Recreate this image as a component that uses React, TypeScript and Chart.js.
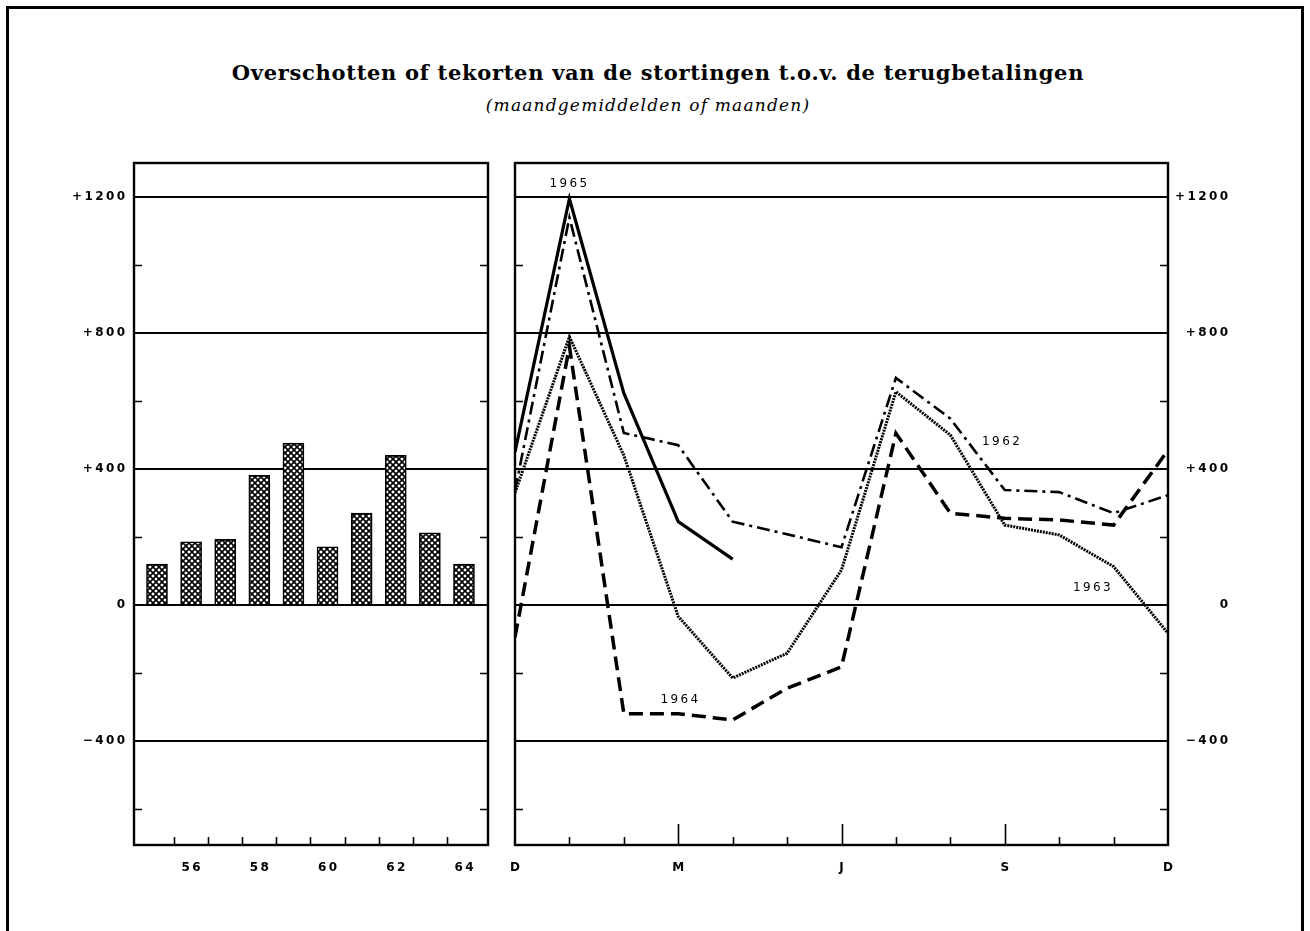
import React, { useEffect, useRef } from 'react';
import { Chart, registerables } from 'chart.js';

Chart.register(...registerables);

// ---------- DATA ----------
const years = [55, 56, 57, 58, 59, 60, 61, 62, 63, 64];
const yearTickLabels = [56, 58, 60, 62, 64];
const annualBalance = [120, 186, 193, 381, 476, 171, 270, 440, 212, 120];

const monthIndex = [0, 1, 2, 3, 4, 5, 6, 7, 8, 9, 10, 11, 12];
const monthTicks = [0, 3, 6, 9, 12];
const monthTickLabels = ['D', 'M', 'J', 'S', 'D'];

const series1962 = [335, 1140, 506, 470, 245, 208, 170, 668, 548, 338, 332, 270, 323];
const series1963 = [330, 789, 440, -34, -215, -142, 103, 627, 500, 235, 206, 113, -83];
const series1964 = [-95, 760, -320, -320, -338, -245, -182, 505, 270, 255, 250, 235, 455];
const series1965 = [450, 1195, 623, 245, 135];

const yMajorTicks = [-400, 0, 400, 800, 1200];
const yMinorTicks = [-600, -200, 200, 600, 1000];

const seriesNames = ['1965', '1962', '1963', '1964'];
const seriesLabelAnchors = [
  { text: '1965', x: 0.98, y: 1240 },
  { text: '1962', x: 8.93, y: 480 },
  { text: '1963', x: 10.6, y: 50 },
  { text: '1964', x: 3.02, y: -278 },
];

// ---------- HELPERS ----------
const spaced = (s: string) => s.split('').join('\u2009');
const fmtY = (v: number) => {
  if (v === 0) return '0';
  return spaced((v > 0 ? '+' : '\u2212') + Math.abs(v));
};
const tickFont = { family: 'DejaVu Sans', size: 12, weight: 'bold' as const };

const fitY = (width: number) => (s: any) => {
  s.width = width;
  s.paddingTop = 0;
  s.paddingBottom = 0;
};
const fitX = (s: any) => {
  s.height = 45;
  s.paddingLeft = 0;
  s.paddingRight = 0;
};

function makeFramePlugin(bottomTicks: { value: number; len: number }[]) {
  return {
    id: 'frameTicks',
    afterDraw(chart: any) {
      const { ctx, chartArea } = chart;
      const { left, right, top, bottom } = chartArea;
      const y = chart.scales.y;
      const x = chart.scales.x;
      ctx.save();
      ctx.strokeStyle = '#000';
      ctx.lineWidth = 1.6;
      ctx.beginPath();
      for (const v of yMinorTicks) {
        const py = Math.round(y.getPixelForValue(v)) + 0.5;
        ctx.moveTo(left, py);
        ctx.lineTo(left + 8, py);
        ctx.moveTo(right - 8, py);
        ctx.lineTo(right, py);
      }
      for (const t of bottomTicks) {
        const px = Math.round(x.getPixelForValue(t.value)) + 0.5;
        ctx.moveTo(px, bottom);
        ctx.lineTo(px, bottom - t.len);
      }
      ctx.stroke();
      ctx.lineWidth = 2.4;
      ctx.strokeRect(left, top, right - left, bottom - top);
      ctx.restore();
    },
  };
}

const labelPlugin = {
  id: 'seriesLabels',
  afterDatasetsDraw(chart: any) {
    const { ctx } = chart;
    const x = chart.scales.x;
    const y = chart.scales.y;
    ctx.save();
    ctx.fillStyle = '#000';
    ctx.font = '12px "DejaVu Sans"';
    ctx.textAlign = 'center';
    ctx.textBaseline = 'middle';
    for (const a of seriesLabelAnchors) {
      ctx.fillText(spaced(a.text), x.getPixelForValue(a.x), y.getPixelForValue(a.y));
    }
    ctx.restore();
  },
};

function makeHatch(): CanvasPattern | string {
  const n = 6;
  const c = document.createElement('canvas');
  c.width = n;
  c.height = n;
  const g = c.getContext('2d');
  if (!g) return '#888';
  g.fillStyle = '#fff';
  g.fillRect(0, 0, n, n);
  g.strokeStyle = '#000';
  g.lineWidth = 1.6;
  g.beginPath();
  g.moveTo(-1, -1);
  g.lineTo(n + 1, n + 1);
  g.moveTo(n + 1, -1);
  g.lineTo(-1, n + 1);
  g.stroke();
  const p = g.createPattern(c, 'repeat');
  return p || '#888';
}

function BarPanel() {
  const ref = useRef<HTMLCanvasElement>(null);
  useEffect(() => {
    if (!ref.current) return;
    const halfYearTicks = years.slice(1).map((y) => ({ value: y - 0.5, len: 8 }));
    const chart = new Chart(ref.current, {
      type: 'bar',
      data: {
        datasets: [
          {
            data: years.map((yr, i) => ({ x: yr, y: annualBalance[i] })),
            backgroundColor: makeHatch() as any,
            borderColor: '#000',
            borderWidth: 1.6,
            barThickness: 21,
          },
        ],
      },
      options: {
        animation: false,
        responsive: false,
        maintainAspectRatio: false,
        layout: { padding: { top: 13, right: 12, left: 0, bottom: 0 } },
        plugins: { legend: { display: false }, tooltip: { enabled: false } },
        scales: {
          x: {
            type: 'linear',
            min: 54.326,
            max: 64.704,
            offset: false,
            grid: { display: false },
            border: { display: false },
            afterBuildTicks: (s: any) => {
              s.ticks = yearTickLabels.map((v) => ({ value: v }));
            },
            afterFit: fitX,
            ticks: {
              autoSkip: false,
              maxRotation: 0,
              padding: 8,
              color: '#000',
              font: tickFont,
              callback: (v: any) => spaced(String(v)),
            },
          },
          y: {
            min: -706,
            max: 1300,
            afterBuildTicks: (s: any) => {
              s.ticks = yMajorTicks.map((v) => ({ value: v }));
            },
            afterFit: fitY(74),
            grid: { color: '#000', lineWidth: 2, drawTicks: false },
            border: { display: false },
            ticks: { padding: 9, color: '#000', font: tickFont, callback: (v: any) => fmtY(Number(v)) },
          },
        },
      } as any,
      plugins: [makeFramePlugin(halfYearTicks)],
    });
    return () => chart.destroy();
  }, []);
  return (
    <canvas
      ref={ref}
      width={440}
      height={740}
      style={{ position: 'absolute', left: 60, top: 150, width: 440, height: 740 }}
    />
  );
}

function LinePanel() {
  const ref = useRef<HTMLCanvasElement>(null);
  useEffect(() => {
    if (!ref.current) return;
    const monthMarks = monthIndex.slice(1, -1).map((m) => ({ value: m, len: monthTicks.includes(m) ? 21 : 8 }));
    const pts = (arr: number[]) => arr.map((v, i) => ({ x: monthIndex[i], y: v }));
    const common = { pointRadius: 0, tension: 0, fill: false, borderColor: '#000', borderCapStyle: 'butt' as const };
    const chart = new Chart(ref.current, {
      type: 'line',
      data: {
        datasets: [
          { ...common, label: seriesNames[0], data: pts(series1965), borderWidth: 3.2 },
          { ...common, label: seriesNames[1], data: pts(series1962), borderWidth: 2.6, borderDash: [13, 5, 3, 5] },
          { ...common, label: seriesNames[2], data: pts(series1963), borderWidth: 3, borderDash: [2, 1] },
          { ...common, label: seriesNames[3], data: pts(series1964), borderWidth: 3.5, borderDash: [14, 7] },
        ],
      },
      options: {
        animation: false,
        responsive: false,
        maintainAspectRatio: false,
        layout: { padding: { top: 13, right: 32, left: 15, bottom: 0 } },
        plugins: { legend: { display: false }, tooltip: { enabled: false } },
        scales: {
          x: {
            type: 'linear',
            min: 0,
            max: 12,
            offset: false,
            grid: { display: false },
            border: { display: false },
            afterBuildTicks: (s: any) => {
              s.ticks = monthTicks.map((v) => ({ value: v }));
            },
            afterFit: fitX,
            ticks: {
              autoSkip: false,
              maxRotation: 0,
              padding: 8,
              color: '#000',
              font: tickFont,
              callback: (_v: any, i: number) => monthTickLabels[i],
            },
          },
          y: {
            position: 'right',
            min: -706,
            max: 1300,
            afterBuildTicks: (s: any) => {
              s.ticks = yMajorTicks.map((v) => ({ value: v }));
            },
            afterFit: fitY(60),
            grid: { color: '#000', lineWidth: 2, drawTicks: false },
            border: { display: false },
            ticks: { crossAlign: 'far', padding: 9, color: '#000', font: tickFont, callback: (v: any) => fmtY(Number(v)) },
          },
        },
      } as any,
      plugins: [makeFramePlugin(monthMarks), labelPlugin],
    });
    return () => chart.destroy();
  }, []);
  return (
    <canvas
      ref={ref}
      width={760}
      height={740}
      style={{ position: 'absolute', left: 500, top: 150, width: 760, height: 740 }}
    />
  );
}

export default function App() {
  return (
    <div
      style={{
        position: 'fixed',
        left: 0,
        top: 0,
        width: 1310,
        height: 931,
        overflow: 'hidden',
        background: '#fff',
      }}
    >
      <div
        style={{
          position: 'absolute',
          left: 6,
          top: 6,
          width: 1298,
          height: 960,
          boxSizing: 'border-box',
          border: '3px solid #000',
        }}
      />
      <div
        style={{
          position: 'absolute',
          left: 6,
          top: 59,
          width: 1304,
          textAlign: 'center',
          fontFamily: '"DejaVu Serif", serif',
          fontWeight: 'bold',
          fontSize: 21,
          letterSpacing: '0.7px',
          lineHeight: '28px',
          color: '#000',
        }}
      >
        Overschotten of tekorten van de stortingen t.o.v. de terugbetalingen
      </div>
      <div
        style={{
          position: 'absolute',
          left: 0,
          top: 94,
          width: 1296,
          textAlign: 'center',
          fontFamily: '"DejaVu Serif", serif',
          fontStyle: 'italic',
          fontSize: 17,
          letterSpacing: '1.2px',
          lineHeight: '22px',
          color: '#000',
        }}
      >
        (maandgemiddelden of maanden)
      </div>
      <BarPanel />
      <LinePanel />
    </div>
  );
}
